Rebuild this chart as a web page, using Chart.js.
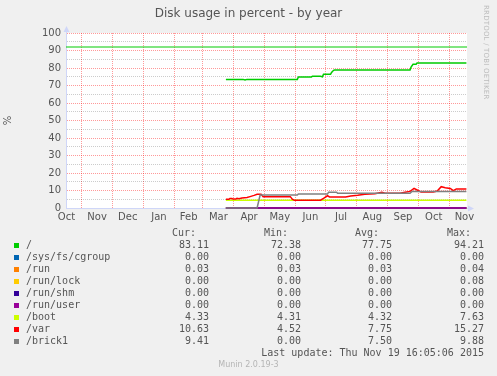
<!DOCTYPE html>
<html>
<head>
<meta charset="utf-8">
<script src="https://cdn.jsdelivr.net/npm/chart.js@4"></script>
<style>
  body { margin: 0; background: #f0f0f0; }
  #wrap { position: relative; width: 497px; height: 376px; overflow: hidden; font-family: "DejaVu Sans", sans-serif; color: #555; }
  #chart { position: absolute; left: 0; top: 0; }
  .abs { position: absolute; white-space: pre; }
  .mono { font-family: "DejaVu Sans Mono", monospace; font-size: 10px; line-height: 12px; }
  #title { left: 0; width: 497px; top: 5px; text-align: center; font-size: 12px; line-height: 16px; color: #555; }
  #mark { left: 482px; top: 5px; writing-mode: vertical-rl; font-size: 7px; color: #bbb; letter-spacing: 0.2px; }
  #footer { left: 0; width: 497px; top: 360px; text-align: center; font-size: 8px; line-height: 10px; color: #b5b5b5; }
  .box { position: absolute; width: 5px; height: 5px; }
</style>
</head>
<body>
<div id="wrap">
  <canvas id="chart" width="497" height="376"></canvas>
  <div id="title" class="abs">Disk usage in percent - by year</div>
  <div id="mark" class="abs">RRDTOOL / TOBI OETIKER</div>
  <div id="legend"></div>
  <div id="footer" class="abs">Munin 2.0.19-3</div>
</div>
<script>
  // x values are days counted from 1 Oct 2014
  const xMin = 15.1;
  const xMax = 413.6;
  const monthStarts = [0, 31, 61, 92, 123, 151, 182, 212, 243, 273, 304, 335, 365, 396, 426];
  const monthLabels = ["Oct", "Nov", "Dec", "Jan", "Feb", "Mar", "Apr", "May", "Jun", "Jul", "Aug", "Sep", "Oct", "Nov"];

  const rootDays = [174, 191, 193, 195, 245, 246, 259, 260, 268, 270, 271, 278, 279, 281, 282, 357, 358, 360, 363, 364, 413];
  const rootVals = [73.5, 73.5, 73.1, 73.5, 73.5, 74.9, 74.9, 75.3, 75.3, 75.0, 76.4, 76.4, 77.5, 78.7, 78.9, 78.9, 80.5, 82.1, 82.1, 82.8, 82.8];
  const rootWarning = 92;

  const flatDays = [174, 413];
  const cgroupVals = [0, 0];
  const runVals = [0.03, 0.03];
  const lockVals = [0, 0];
  const shmVals = [0, 0];
  const userVals = [0, 0];
  const bootVals = [4.4, 4.4];

  const varDays = [174, 177, 178, 180, 181, 184, 185, 187, 190, 195, 198, 202, 205, 209, 211, 238, 240, 242, 268, 271, 275, 277, 293, 298, 305, 312, 322, 329, 332, 347, 352, 357, 361, 364, 368, 380, 384, 388, 392, 397, 400, 403, 413];
  const varVals = [5.0, 5.0, 5.5, 5.5, 5.1, 5.1, 5.5, 5.3, 5.7, 6.0, 6.5, 7.2, 7.8, 7.8, 6.5, 6.5, 5.0, 4.5, 4.5, 5.5, 7.0, 6.3, 6.3, 6.9, 7.3, 7.8, 8.2, 9.0, 8.4, 8.4, 9.0, 9.5, 11.2, 10.3, 9.1, 9.1, 9.7, 12.2, 11.6, 11.2, 9.9, 10.9, 10.9];

  const brickDays = [174, 205, 208, 245, 246, 275, 276, 284, 285, 357, 359, 413];
  const brickVals = [0, 0, 7.4, 7.4, 8.0, 8.0, 9.0, 9.0, 8.4, 8.4, 9.4, 9.4];

  const names = ["/", "/sys/fs/cgroup", "/run", "/run/lock", "/run/shm", "/run/user", "/boot", "/var", "/brick1"];
  const colors = ["#00CC00", "#0066B3", "#FF8000", "#FFCC00", "#330099", "#990099", "#CCFF00", "#FF0000", "#808080"];
  const curVals = [83.11, 0, 0.03, 0, 0, 0, 4.33, 10.63, 9.41];
  const minVals = [72.38, 0, 0.03, 0, 0, 0, 4.31, 4.52, 0];
  const avgVals = [77.75, 0, 0.03, 0, 0, 0, 4.32, 7.75, 7.50];
  const maxVals = [94.21, 0, 0.04, 0.08, 0, 0, 7.63, 15.27, 9.88];
  const lastUpdate = "Last update: Thu Nov 19 16:05:06 2015";

  const axisColor = "#CFD6F8";

  function toPoints(days, vals) {
    return days.map((d, i) => ({ x: d, y: vals[i] }));
  }

  function monthMids() {
    const mids = [];
    for (let i = 0; i < monthLabels.length; i++) {
      mids.push(monthStarts[i] + (monthStarts[i + 1] - monthStarts[i]) / 2);
    }
    return mids;
  }

  function buildDatasets() {
    const series = [
      [rootDays, rootVals], [flatDays, cgroupVals], [flatDays, runVals], [flatDays, lockVals],
      [flatDays, shmVals], [flatDays, userVals], [flatDays, bootVals], [varDays, varVals], [brickDays, brickVals]
    ];
    const sets = series.map((s, i) => ({
      label: names[i],
      data: toPoints(s[0], s[1]),
      borderColor: colors[i],
      borderWidth: 1.5,
      pointRadius: 0,
      clip: 3,
      order: series.length - i // later series on top, like munin
    }));
    sets.push({
      label: "warning",
      data: [{ x: xMin, y: rootWarning }, { x: xMax, y: rootWarning }],
      borderColor: colors[0],
      borderWidth: 1,
      pointRadius: 0,
      order: 20
    });
    return sets;
  }

  const canvasBg = {
    id: "canvasBg",
    beforeDraw(chart) {
      const a = chart.chartArea;
      const ctx = chart.ctx;
      ctx.save();
      ctx.fillStyle = "#ffffff";
      ctx.fillRect(a.left, a.top, a.right - a.left, a.bottom - a.top);
      ctx.restore();
    }
  };

  const arrows = {
    id: "arrows",
    afterDraw(chart) {
      const a = chart.chartArea;
      const ctx = chart.ctx;
      ctx.save();
      ctx.strokeStyle = axisColor;
      ctx.fillStyle = axisColor;
      ctx.lineWidth = 1;
      ctx.beginPath();
      ctx.moveTo(a.left + 0.5, a.top);
      ctx.lineTo(a.left + 0.5, a.top - 3);
      ctx.moveTo(a.right, a.bottom + 0.5);
      ctx.lineTo(a.right + 3, a.bottom + 0.5);
      ctx.stroke();
      ctx.beginPath();
      ctx.moveTo(a.left + 0.5, a.top - 7);
      ctx.lineTo(a.left - 2.5, a.top - 1);
      ctx.lineTo(a.left + 3.5, a.top - 1);
      ctx.fill();
      ctx.beginPath();
      ctx.moveTo(a.right + 7, a.bottom + 0.5);
      ctx.lineTo(a.right + 1, a.bottom - 2.5);
      ctx.lineTo(a.right + 1, a.bottom + 3.5);
      ctx.fill();
      ctx.restore();
    }
  };

  function drawChart() {
    const mids = monthMids();
    const tickFont = { family: "DejaVu Sans", size: 10 };
    new Chart(document.getElementById("chart"), {
      type: "line",
      data: { datasets: buildDatasets() },
      options: {
        responsive: false,
        animation: false,
        layout: { padding: { left: 0, right: 30, top: 33, bottom: 0 } },
        plugins: { legend: { display: false }, tooltip: { enabled: false } },
        scales: {
          x: {
            type: "linear",
            min: xMin,
            max: xMax,
            afterFit(scale) { scale.height = 168; },
            afterBuildTicks(scale) {
              const vals = monthStarts.concat(mids).filter(v => v >= xMin && v <= xMax).sort((a, b) => a - b);
              scale.ticks = vals.map(v => ({ value: v }));
            },
            ticks: {
              autoSkip: false,
              maxRotation: 0,
              padding: 3,
              color: "#555",
              font: tickFont,
              callback(value) {
                const i = mids.indexOf(value);
                return i >= 0 ? monthLabels[i] : "";
              }
            },
            grid: {
              drawTicks: false,
              color(ctx) {
                return monthStarts.includes(ctx.tick.value) ? "rgba(255,0,0,0.4)" : "rgba(0,0,0,0)";
              }
            },
            border: { color: axisColor, dash: [1, 1] }
          },
          y: {
            min: 0,
            max: 100,
            afterFit(scale) { scale.width = 66; },
            ticks: {
              stepSize: 5,
              autoSkip: false,
              padding: 5,
              color: "#555",
              font: tickFont,
              callback(value) { return value % 10 === 0 ? value : ""; }
            },
            grid: {
              drawTicks: false,
              color(ctx) {
                const v = ctx.tick.value;
                if (v === 0) return "rgba(0,0,0,0)";
                return v % 10 === 0 ? "rgba(255,0,0,0.4)" : "rgba(0,0,0,0.2)";
              }
            },
            border: { color: axisColor, dash: [1, 1] },
            title: { display: true, text: "%", color: "#555", font: tickFont, padding: 2 }
          }
        }
      },
      plugins: [canvasBg, arrows]
    });
  }

  function addText(parent, text, style) {
    const el = document.createElement("div");
    el.className = "abs mono";
    el.textContent = text;
    Object.assign(el.style, style);
    parent.appendChild(el);
  }

  function buildLegend() {
    const legend = document.getElementById("legend");
    const colRight = [209, 301, 392, 484];
    const heads = ["Cur:", "Min:", "Avg:", "Max:"];
    heads.forEach((h, c) => {
      addText(legend, h, { top: "227px", right: (497 - colRight[c] + 13) + "px" });
    });
    names.forEach((name, i) => {
      const top = 238.5 + 12 * i;
      const box = document.createElement("div");
      box.className = "box";
      box.style.left = "14px";
      box.style.top = (top + 4) + "px";
      box.style.background = colors[i];
      legend.appendChild(box);
      addText(legend, name, { top: top + "px", left: "26px" });
      [curVals, minVals, avgVals, maxVals].forEach((arr, c) => {
        addText(legend, arr[i].toFixed(2), { top: top + "px", right: (497 - colRight[c]) + "px" });
      });
    });
    addText(legend, lastUpdate, { top: (238.5 + 12 * names.length) + "px", right: (497 - colRight[3]) + "px" });
  }

  document.addEventListener("DOMContentLoaded", () => {
    drawChart();
    buildLegend();
  });
</script>
</body>
</html>
